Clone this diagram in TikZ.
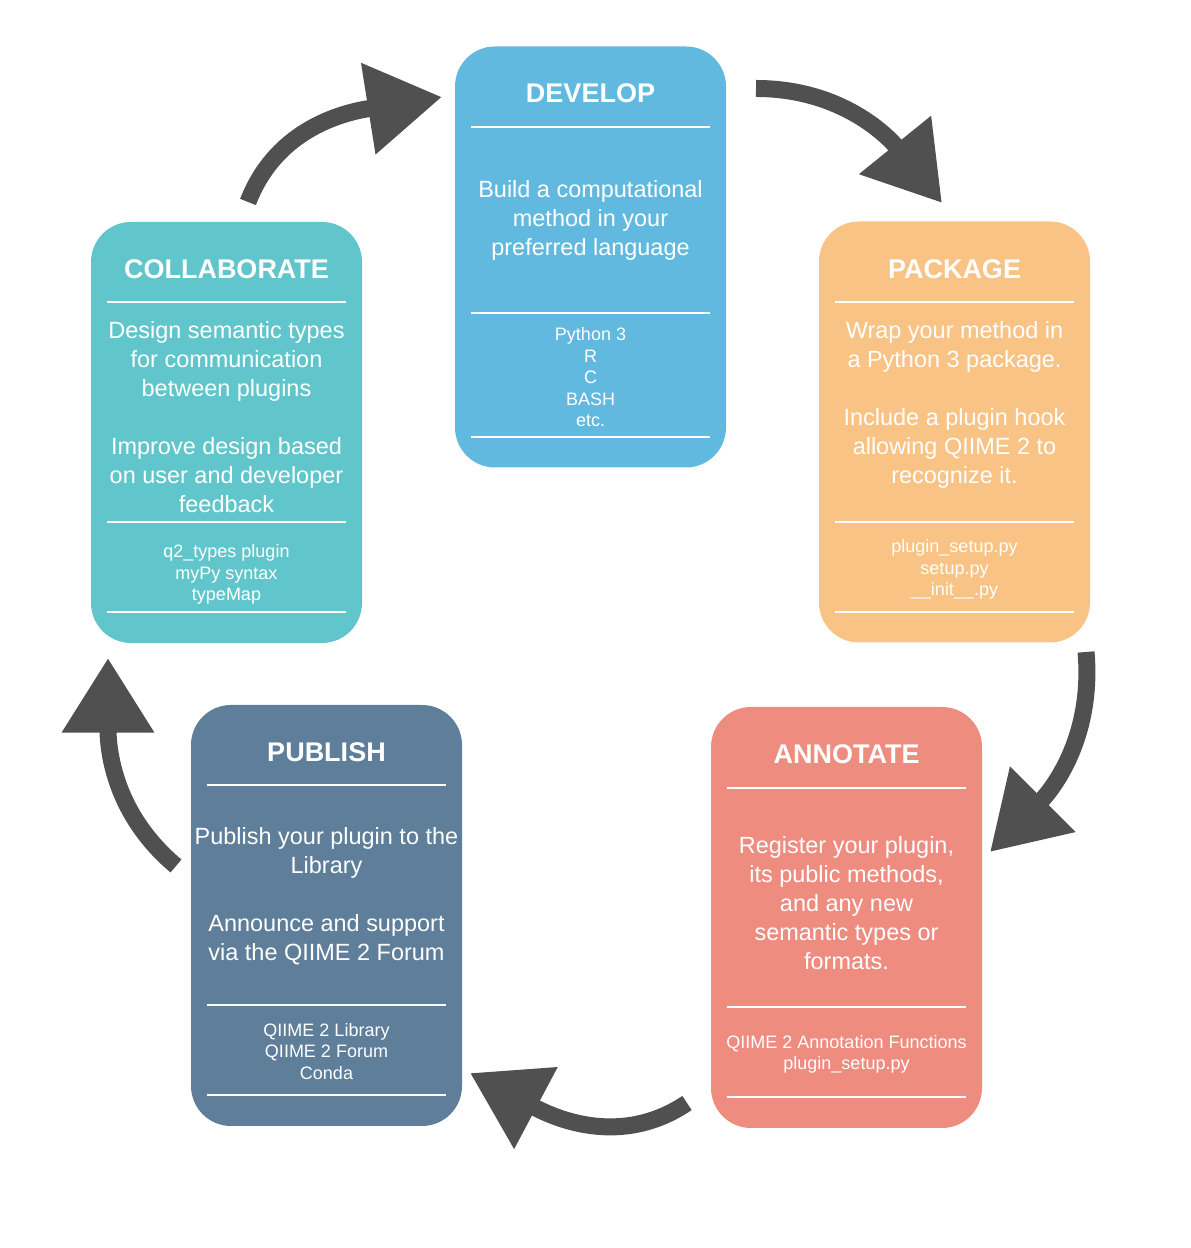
\documentclass[tikz,border=0pt]{standalone}
\usepackage{fontspec}
\setmainfont{Liberation Sans}
\usetikzlibrary{arrows.meta}

\definecolor{devblue}{HTML}{62B9E0}
\definecolor{packorange}{HTML}{F8C385}
\definecolor{annosalmon}{HTML}{EF8C80}
\definecolor{pubslate}{HTML}{5E7E99}
\definecolor{colteal}{HTML}{61C6CC}
\definecolor{arrowgrey}{HTML}{505050}

\tikzset{
  stagebox/.style={rounded corners=30pt, minimum width=203.25pt, minimum height=315.75pt, inner sep=0pt},
  stagetitle/.style={text=white, anchor=base, font=\fontsize{20.25pt}{24pt}\selectfont\bfseries},
  stagebody/.style={text=white, align=center, font=\fontsize{17.6pt}{21.75pt}\selectfont},
  stagesmall/.style={text=white, align=center, font=\fontsize{13.5pt}{16.1pt}\selectfont},
  rule/.style={white, line width=1.5pt},
  cyclearrow/.style={draw=arrowgrey, line width=12.75pt, -{Triangle[width=66pt,length=56pt]}}
}

\begin{document}
\begin{tikzpicture}[x=0.75pt,y=0.75pt]
    \useasboundingbox (0,0) rectangle (1190,1248);

    % develop
    \node[stagebox, fill=devblue] (develop) at (590.5,991) {};
    \node[stagetitle] (developtitle) at (590.5,1145) {DEVELOP};
    \draw[rule] (471,1121) -- (710,1121);
    \node[stagebody] (developbody) at (590.5,1028) {Build a computational\\method in your\\preferred language};
    \draw[rule] (471,935) -- (710,935);
    \node[stagesmall] (developtools) at (590.5,870.5) {Python 3\\R\\C\\BASH\\etc.};
    \draw[rule] (471,811) -- (710,811);

    % package
    \node[stagebox, fill=packorange] (package) at (954.5,816) {};
    \node[stagetitle] (packagetitle) at (954.5,969) {PACKAGE};
    \draw[rule] (835,946) -- (1074,946);
    \node[stagebody] (packagebody) at (954.5,843) {Wrap your method in\\a Python 3 package.\\[21.75pt]Include a plugin hook\\allowing QIIME 2 to\\recognize it.};
    \draw[rule] (835,726) -- (1074,726);
    \node[stagesmall] (packagetools) at (954.5,678.5) {plugin\_setup.py\\setup.py\\\_\_init\_\_.py};
    \draw[rule] (835,636) -- (1074,636);

    % annotate
    \node[stagebox, fill=annosalmon] (annotate) at (846.5,330.5) {};
    \node[stagetitle] (annotatetitle) at (846.5,484) {ANNOTATE};
    \draw[rule] (727,460) -- (966,460);
    \node[stagebody] (annotatebody) at (846.5,344.5) {Register your plugin,\\its public methods,\\and any new\\semantic types or\\formats.};
    \draw[rule] (727,241) -- (966,241);
    \node[stagesmall] (annotatetools) at (846.5,193.5) {QIIME 2 Annotation Functions\\plugin\_setup.py};
    \draw[rule] (727,151) -- (966,151);

    % publish
    \node[stagebox, fill=pubslate] (publish) at (326.5,332.5) {};
    \node[stagetitle] (publishtitle) at (326.5,486) {PUBLISH};
    \draw[rule] (207,463) -- (446,463);
    \node[stagebody] (publishbody) at (326.5,352) {Publish your plugin to the\\Library\\[21.75pt]Announce and support\\via the QIIME 2 Forum};
    \draw[rule] (207,243) -- (446,243);
    \node[stagesmall] (publishtools) at (326.5,196.5) {QIIME 2 Library\\QIIME 2 Forum\\Conda};
    \draw[rule] (207,153) -- (446,153);

    % collaborate
    \node[stagebox, fill=colteal] (collaborate) at (226.5,815.5) {};
    \node[stagetitle] (collaboratetitle) at (226.5,969) {COLLABORATE};
    \draw[rule] (107,946) -- (346,946);
    \node[stagebody] (collaboratebody) at (226.5,831) {Design semantic types\\for communication\\between plugins\\[21.75pt]Improve design based\\on user and developer\\feedback};
    \draw[rule] (107,726) -- (346,726);
    \node[stagesmall] (collaboratetools) at (226.5,673.5) {q2\_types plugin\\myPy syntax\\typeMap};
    \draw[rule] (107,636) -- (346,636);

    % arrow ends
    \coordinate (devout) at (756,1159.5);
    \coordinate (packin) at (942,1045);
    \coordinate (packout) at (1086,596);
    \coordinate (annoin) at (990,396);
    \coordinate (annoout) at (687,145);
    \coordinate (pubin) at (470,175);
    \coordinate (pubout) at (176,382);
    \coordinate (colin) at (108,590);
    \coordinate (colout) at (248,1046);
    \coordinate (devin) at (442,1151);

    \draw[cyclearrow] (devout) to[out=0,in=129] (packin);
    \draw[cyclearrow] (packout) to[out=-85,in=45] (annoin);
    \draw[cyclearrow] (annoout) to[out=-146,in=-28] (pubin);
    \draw[cyclearrow] (pubout) to[out=140,in=-90] (colin);
    \draw[cyclearrow] (colout) to[out=69,in=-171] (devin);
\end{tikzpicture}
\end{document}
